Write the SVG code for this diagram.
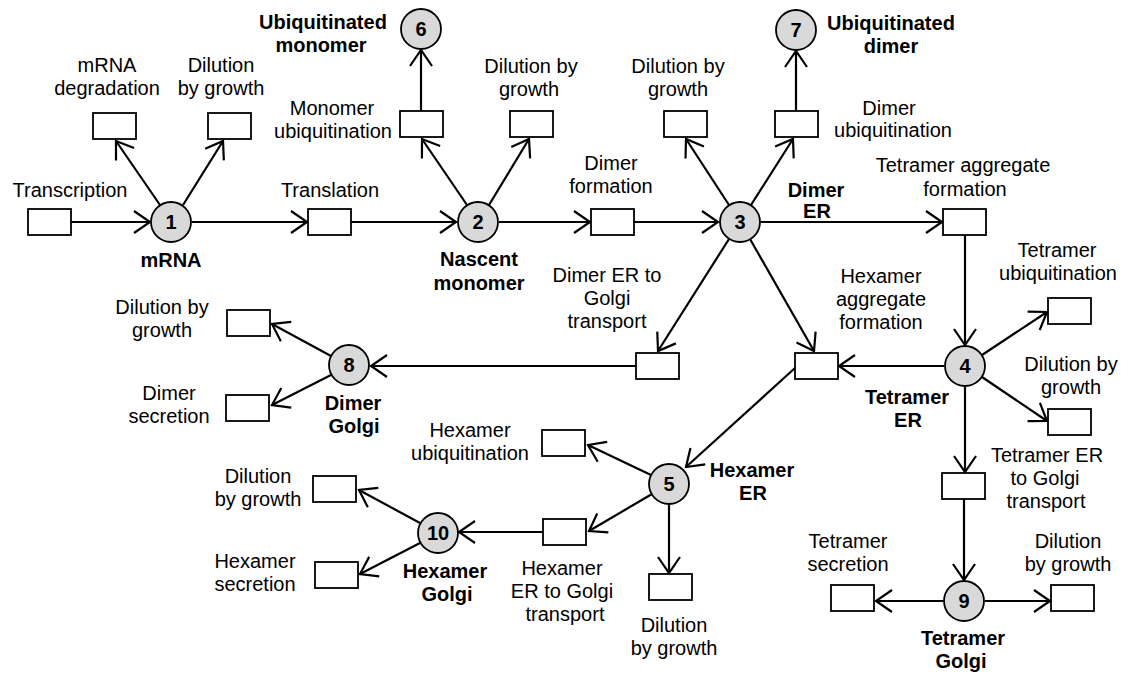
<svg xmlns="http://www.w3.org/2000/svg" width="1129" height="674" viewBox="0 0 1129 674">
<style>
.t{font-family:"Liberation Sans",Arial,sans-serif;font-size:20px;fill:#000;text-anchor:middle}
.b{font-weight:bold}
.n circle{fill:#d9d9d9;stroke:#000;stroke-width:1.8}
.n text{font-family:"Liberation Sans",Arial,sans-serif;font-size:20px;font-weight:bold;text-anchor:middle}
.r{fill:#fff;stroke:#000;stroke-width:1.8}
.c line{stroke:#000;stroke-width:2.2;fill:none}
.c line.a{marker-end:url(#ah)}
</style>
<defs>
<marker id="ah" markerUnits="userSpaceOnUse" viewBox="-20 -14 24 28" markerWidth="24" markerHeight="28" refX="0" refY="0" orient="auto">
<path d="M-16,-11 L0,0 L-16,11" fill="none" stroke="#000" stroke-width="2.2"/>
</marker>
</defs>
<rect width="1129" height="674" fill="#fff"/>
<g id="connectors" class="c">
<line class="a" x1="71" y1="222" x2="150" y2="222"/>
<line class="a" x1="160" y1="205" x2="116" y2="141"/>
<line class="a" x1="183" y1="205" x2="223" y2="141"/>
<line class="a" x1="192" y1="222" x2="307" y2="222"/>
<line class="a" x1="351" y1="222" x2="456" y2="222"/>
<line class="a" x1="467" y1="205" x2="422" y2="139"/>
<line class="a" x1="489" y1="205" x2="529" y2="139"/>
<line class="a" x1="421" y1="111" x2="421" y2="50"/>
<line class="a" x1="499" y1="222" x2="590" y2="222"/>
<line class="a" x1="634" y1="222" x2="718" y2="222"/>
<line class="a" x1="729" y1="205" x2="686" y2="139"/>
<line class="a" x1="751" y1="205" x2="793" y2="139"/>
<line class="a" x1="796" y1="111" x2="796" y2="51"/>
<line class="a" x1="761" y1="222" x2="942" y2="222"/>
<line class="a" x1="965" y1="235" x2="965" y2="345"/>
<line class="a" x1="729" y1="239" x2="658" y2="351"/>
<line class="a" x1="750" y1="239" x2="814" y2="351"/>
<line class="a" x1="636" y1="366" x2="371" y2="366"/>
<line class="a" x1="331" y1="356" x2="272" y2="324"/>
<line class="a" x1="331" y1="375" x2="272" y2="405"/>
<line class="a" x1="944" y1="366" x2="839" y2="366"/>
<line class="a" x1="795" y1="368" x2="686" y2="467"/>
<line class="a" x1="651" y1="475" x2="588" y2="445"/>
<line class="a" x1="652" y1="494" x2="589" y2="531"/>
<line class="a" x1="669" y1="505" x2="669" y2="573"/>
<line class="a" x1="543" y1="532" x2="459" y2="532"/>
<line class="a" x1="420" y1="523" x2="359" y2="490"/>
<line class="a" x1="420" y1="543" x2="360" y2="574"/>
<line class="a" x1="982" y1="355" x2="1047" y2="312"/>
<line class="a" x1="982" y1="377" x2="1047" y2="421"/>
<line class="a" x1="965" y1="387" x2="965" y2="472"/>
<line class="a" x1="964" y1="499" x2="964" y2="580"/>
<line class="a" x1="944" y1="601" x2="876" y2="601"/>
<line class="a" x1="985" y1="601" x2="1050" y2="601"/>
</g>
<g id="boxes">
<rect id="r-transcription" class="r" x="28" y="209" width="43" height="26"/>
<rect id="r-mrnadeg" class="r" x="93" y="113" width="43" height="26"/>
<rect id="r-dil1" class="r" x="208" y="113" width="43" height="26"/>
<rect id="r-translation" class="r" x="308" y="209" width="43" height="26"/>
<rect id="r-monoubq" class="r" x="400" y="111" width="43" height="26"/>
<rect id="r-dil2" class="r" x="510" y="111" width="43" height="26"/>
<rect id="r-dimerform" class="r" x="591" y="209" width="43" height="26"/>
<rect id="r-dil3" class="r" x="664" y="111" width="43" height="26"/>
<rect id="r-dimerubq" class="r" x="775" y="111" width="43" height="26"/>
<rect id="r-tetagg" class="r" x="943" y="209" width="43" height="26"/>
<rect id="r-dimergolgi" class="r" x="636" y="353" width="43" height="26"/>
<rect id="r-hexagg" class="r" x="795" y="353" width="43" height="26"/>
<rect id="r-tetubq" class="r" x="1048" y="298" width="43" height="26"/>
<rect id="r-dil4" class="r" x="1048" y="409" width="43" height="26"/>
<rect id="r-tetgolgi" class="r" x="942" y="473" width="43" height="26"/>
<rect id="r-dil8" class="r" x="227" y="310" width="43" height="26"/>
<rect id="r-dimersec" class="r" x="226" y="395" width="43" height="26"/>
<rect id="r-hexubq" class="r" x="542" y="430" width="43" height="26"/>
<rect id="r-hexgolgi" class="r" x="543" y="519" width="43" height="26"/>
<rect id="r-dil5" class="r" x="649" y="574" width="43" height="26"/>
<rect id="r-dil10" class="r" x="313" y="476" width="43" height="26"/>
<rect id="r-hexsec" class="r" x="315" y="562" width="43" height="26"/>
<rect id="r-tetsec" class="r" x="831" y="585" width="43" height="26"/>
<rect id="r-dil9" class="r" x="1051" y="585" width="43" height="26"/>
</g>
<g id="node1" class="n"><circle cx="171" cy="222" r="20"/><text x="171" y="229">1</text></g>
<g id="node2" class="n"><circle cx="478" cy="222" r="20"/><text x="478" y="229">2</text></g>
<g id="node3" class="n"><circle cx="740" cy="222" r="20"/><text x="740" y="229">3</text></g>
<g id="node4" class="n"><circle cx="965" cy="366" r="20"/><text x="965" y="373">4</text></g>
<g id="node5" class="n"><circle cx="669" cy="484" r="20"/><text x="669" y="491">5</text></g>
<g id="node6" class="n"><circle cx="421" cy="29" r="20"/><text x="421" y="36">6</text></g>
<g id="node7" class="n"><circle cx="796" cy="30" r="20"/><text x="796" y="37">7</text></g>
<g id="node8" class="n"><circle cx="349" cy="365" r="20"/><text x="349" y="372">8</text></g>
<g id="node9" class="n"><circle cx="964" cy="601" r="20"/><text x="964" y="608">9</text></g>
<g id="node10" class="n"><circle cx="438" cy="533" r="20"/><text x="438" y="540">10</text></g>
<g id="labels">
<text class="t" x="70" y="197">Transcription</text>
<text class="t" x="107" y="72">mRNA</text>
<text class="t" x="107" y="95">degradation</text>
<text class="t" x="221" y="72">Dilution</text>
<text class="t" x="221" y="95">by growth</text>
<text class="t" x="330" y="197">Translation</text>
<text class="t b" x="171" y="267">mRNA</text>
<text class="t b" x="323" y="29">Ubiquitinated</text>
<text class="t b" x="321" y="52">monomer</text>
<text class="t" x="332" y="115">Monomer</text>
<text class="t" x="333" y="138">ubiquitination</text>
<text class="t" x="531" y="73">Dilution by</text>
<text class="t" x="529" y="96">growth</text>
<text class="t" x="611" y="170">Dimer</text>
<text class="t" x="611" y="193">formation</text>
<text class="t b" x="479" y="266">Nascent</text>
<text class="t b" x="479" y="290">monomer</text>
<text class="t" x="678" y="73">Dilution by</text>
<text class="t" x="678" y="96">growth</text>
<text class="t b" x="891" y="30">Ubiquitinated</text>
<text class="t b" x="891" y="53">dimer</text>
<text class="t" x="889" y="115">Dimer</text>
<text class="t" x="893" y="137">ubiquitination</text>
<text class="t b" x="816" y="197">Dimer</text>
<text class="t b" x="817" y="218">ER</text>
<text class="t" x="963" y="172">Tetramer aggregate</text>
<text class="t" x="965" y="196">formation</text>
<text class="t" x="607" y="282">Dimer ER to</text>
<text class="t" x="607" y="305">Golgi</text>
<text class="t" x="607" y="328">transport</text>
<text class="t" x="881" y="283">Hexamer</text>
<text class="t" x="881" y="306">aggregate</text>
<text class="t" x="881" y="329">formation</text>
<text class="t" x="1057" y="257">Tetramer</text>
<text class="t" x="1058" y="280">ubiquitination</text>
<text class="t" x="1071" y="371">Dilution by</text>
<text class="t" x="1071" y="394">growth</text>
<text class="t b" x="907" y="404">Tetramer</text>
<text class="t b" x="908" y="427">ER</text>
<text class="t" x="1047" y="462">Tetramer ER</text>
<text class="t" x="1045" y="485">to Golgi</text>
<text class="t" x="1046" y="508">transport</text>
<text class="t" x="848" y="548">Tetramer</text>
<text class="t" x="848" y="571">secretion</text>
<text class="t" x="1068" y="548">Dilution</text>
<text class="t" x="1068" y="571">by growth</text>
<text class="t b" x="963" y="645">Tetramer</text>
<text class="t b" x="961" y="668">Golgi</text>
<text class="t" x="162" y="314">Dilution by</text>
<text class="t" x="162" y="337">growth</text>
<text class="t" x="169" y="400">Dimer</text>
<text class="t" x="169" y="423">secretion</text>
<text class="t b" x="353" y="410">Dimer</text>
<text class="t b" x="354" y="433">Golgi</text>
<text class="t" x="470" y="437">Hexamer</text>
<text class="t" x="470" y="460">ubiquitination</text>
<text class="t b" x="752" y="477">Hexamer</text>
<text class="t b" x="753" y="500">ER</text>
<text class="t" x="258" y="483">Dilution</text>
<text class="t" x="258" y="506">by growth</text>
<text class="t" x="255" y="568">Hexamer</text>
<text class="t" x="255" y="591">secretion</text>
<text class="t b" x="445" y="578">Hexamer</text>
<text class="t b" x="447" y="601">Golgi</text>
<text class="t" x="562" y="575">Hexamer</text>
<text class="t" x="562" y="598">ER to Golgi</text>
<text class="t" x="565" y="621">transport</text>
<text class="t" x="674" y="632">Dilution</text>
<text class="t" x="674" y="655">by growth</text>
</g>
</svg>
